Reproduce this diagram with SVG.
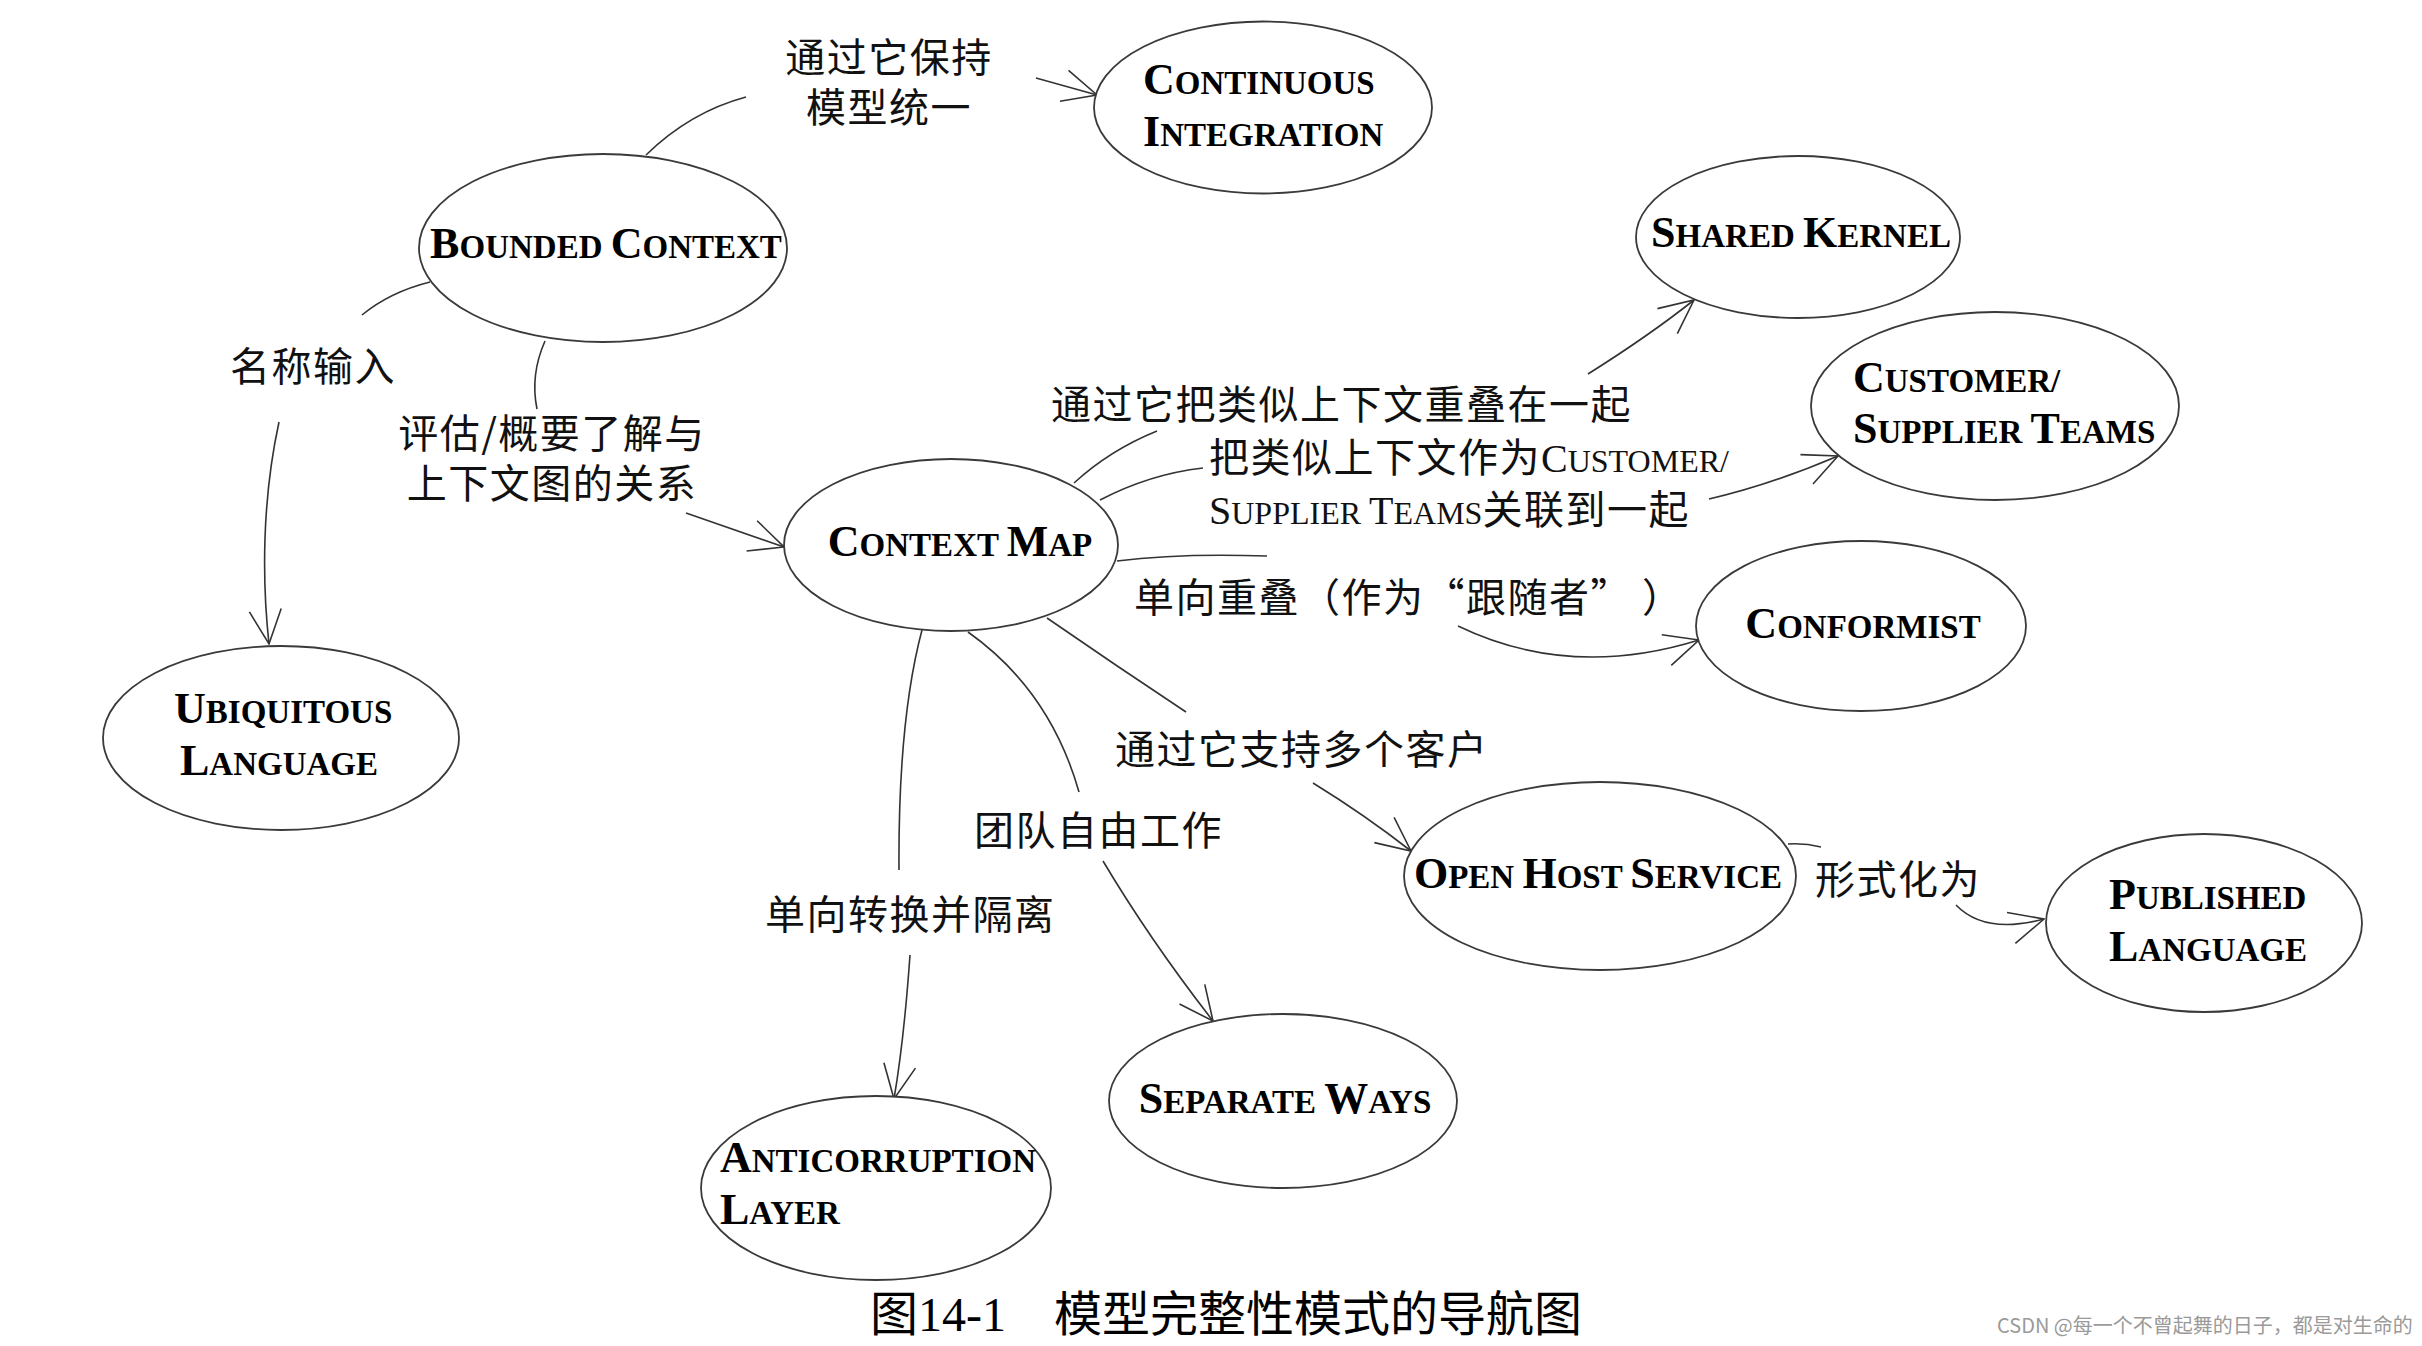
<svg xmlns="http://www.w3.org/2000/svg" width="2422" height="1346" viewBox="0 0 2422 1346">
<style>
.node ellipse{fill:#fff;stroke:#3a3a3a;stroke-width:1.8}
.nl{font-family:"Liberation Serif",serif;font-weight:bold;font-size:33px;fill:#000}
.L{font-size:44px}
.lb{font-family:"Noto Sans CJK SC",sans-serif;font-size:40px;letter-spacing:1.5px;fill:#111}
.lat{font-family:"Liberation Serif",serif;font-size:32px;letter-spacing:0}
.latL{font-family:"Liberation Serif",serif;font-size:40px;letter-spacing:0}
.conn path{fill:none;stroke:#333;stroke-width:1.6}
.cap{font-family:"Liberation Serif","Noto Sans CJK SC",serif;font-size:48px;fill:#000}
.wm{font-family:"Noto Sans CJK SC",sans-serif;font-size:20px;fill:#9a9a9a}
</style>
<defs>
<marker id="arr" viewBox="-40 -20 44 40" refX="0" refY="0" markerWidth="44" markerHeight="40" markerUnits="userSpaceOnUse" orient="auto">
<path d="M-34,-16 L0,0 L-34,16" fill="none" stroke="#333" stroke-width="1.6"/>
</marker>
</defs>
<rect width="2422" height="1346" fill="#fff"/>

<g id="connectors" class="conn">
<path d="M646,155 Q690,112 746,97"/>
<path d="M1036,78 L1097,95" marker-end="url(#arr)"/>
<path d="M430,282 Q390,292 362,315"/>
<path d="M279,422 C262,500 262,580 269,644" marker-end="url(#arr)"/>
<path d="M545,341 Q530,375 537,409"/>
<path d="M686,513 L784,547" marker-end="url(#arr)"/>
<path d="M1074,483 Q1110,450 1157,431"/>
<path d="M1588,374 Q1650,335 1694,300" marker-end="url(#arr)"/>
<path d="M1100,500 Q1150,474 1203,468"/>
<path d="M1709,499 Q1770,485 1838,456" marker-end="url(#arr)"/>
<path d="M1117,561 Q1180,553 1267,556"/>
<path d="M1458,626 Q1570,680 1699,640" marker-end="url(#arr)"/>
<path d="M1047,618 Q1115,665 1186,712"/>
<path d="M1313,783 Q1365,815 1411,851" marker-end="url(#arr)"/>
<path d="M1788,844 Q1805,843 1821,847"/>
<path d="M1956,905 Q1985,935 2044,919" marker-end="url(#arr)"/>
<path d="M968,632 Q1050,690 1079,792"/>
<path d="M1103,861 Q1150,940 1213,1021" marker-end="url(#arr)"/>
<path d="M922,630 Q898,720 899,870"/>
<path d="M910,955 Q904,1040 894,1099" marker-end="url(#arr)"/>
</g>

<g id="continuous-integration" class="node">
<ellipse cx="1263" cy="107.5" rx="169" ry="86"/>
<text class="nl" x="1143" y="94"><tspan class="L">C</tspan>ONTINUOUS<tspan x="1143" dy="52" class="L">I</tspan>NTEGRATION</text>
</g>
<g id="bounded-context" class="node">
<ellipse cx="603" cy="248" rx="184" ry="94"/>
<text class="nl" x="606" y="258" text-anchor="middle"><tspan class="L">B</tspan>OUNDED <tspan class="L">C</tspan>ONTEXT</text>
</g>
<g id="shared-kernel" class="node">
<ellipse cx="1798" cy="237" rx="162" ry="81"/>
<text class="nl" x="1801" y="247" text-anchor="middle"><tspan class="L">S</tspan>HARED <tspan class="L">K</tspan>ERNEL</text>
</g>
<g id="customer-supplier" class="node">
<ellipse cx="1995" cy="406" rx="184" ry="94"/>
<text class="nl" x="1853" y="392"><tspan class="L">C</tspan>USTOMER/<tspan x="1853" dy="51" class="L">S</tspan>UPPLIER <tspan class="L">T</tspan>EAMS</text>
</g>
<g id="conformist" class="node">
<ellipse cx="1861" cy="626" rx="165" ry="85"/>
<text class="nl" x="1863" y="638" text-anchor="middle"><tspan class="L">C</tspan>ONFORMIST</text>
</g>
<g id="context-map" class="node">
<ellipse cx="951" cy="545" rx="167" ry="86"/>
<text class="nl" x="960" y="556" text-anchor="middle"><tspan class="L">C</tspan>ONTEXT <tspan class="L">M</tspan>AP</text>
</g>
<g id="ubiquitous-language" class="node">
<ellipse cx="281" cy="738" rx="178" ry="92"/>
<text class="nl" x="174" y="723"><tspan class="L">U</tspan>BIQUITOUS<tspan x="180" dy="52" class="L">L</tspan>ANGUAGE</text>
</g>
<g id="open-host-service" class="node">
<ellipse cx="1600" cy="876" rx="196" ry="94"/>
<text class="nl" x="1598" y="888" text-anchor="middle"><tspan class="L">O</tspan>PEN <tspan class="L">H</tspan>OST <tspan class="L">S</tspan>ERVICE</text>
</g>
<g id="published-language" class="node">
<ellipse cx="2204" cy="923" rx="158" ry="89"/>
<text class="nl" x="2109" y="909"><tspan class="L">P</tspan>UBLISHED<tspan x="2109" dy="52" class="L">L</tspan>ANGUAGE</text>
</g>
<g id="separate-ways" class="node">
<ellipse cx="1283" cy="1101" rx="174" ry="87"/>
<text class="nl" x="1285" y="1113" text-anchor="middle"><tspan class="L">S</tspan>EPARATE <tspan class="L">W</tspan>AYS</text>
</g>
<g id="anticorruption-layer" class="node">
<ellipse cx="876" cy="1188" rx="175" ry="92"/>
<text class="nl" x="720" y="1172"><tspan class="L">A</tspan>NTICORRUPTION<tspan x="720" dy="52" class="L">L</tspan>AYER</text>
</g>

<g id="labels">
<text class="lb" x="889" y="72" text-anchor="middle">通过它保持<tspan x="889" dy="50">模型统一</tspan></text>
<text class="lb" x="313" y="381" text-anchor="middle">名称输入</text>
<text class="lb" x="552" y="448" text-anchor="middle">评估/概要了解与<tspan x="552" dy="50">上下文图的关系</tspan></text>
<text class="lb" x="1051" y="419">通过它把类似上下文重叠在一起</text>
<text class="lb" x="1209" y="472">把类似上下文作为<tspan class="latL">C</tspan><tspan class="lat">USTOMER/</tspan><tspan x="1209" dy="52" class="latL">S</tspan><tspan class="lat">UPPLIER </tspan><tspan class="latL">T</tspan><tspan class="lat">EAMS</tspan>关联到一起</text>
<text class="lb" x="1134" y="612">单向重叠（作为“跟随者”<tspan dx="30">）</tspan></text>
<text class="lb" x="1115" y="764">通过它支持多个客户</text>
<text class="lb" x="974" y="845">团队自由工作</text>
<text class="lb" x="765" y="929">单向转换并隔离</text>
<text class="lb" x="1815" y="894">形式化为</text>
</g>

<text class="cap" x="870" y="1331">图14-1　模型完整性模式的导航图</text>
<text class="wm" x="1997" y="1333">CSDN @每一个不曾起舞的日子，都是对生命的</text>
</svg>
